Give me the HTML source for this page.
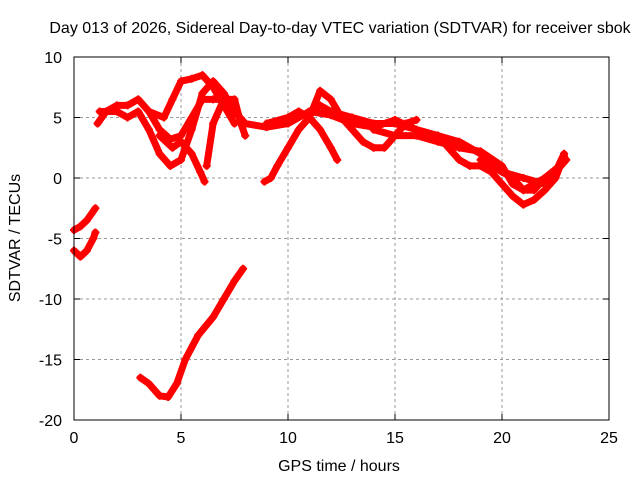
<!DOCTYPE html>
<html><head><meta charset="utf-8"><style>
body{margin:0;background:#fff}
svg text{font-family:"Liberation Sans",sans-serif;font-size:16px;fill:#000}
</style></head><body>
<svg id="chart" width="640" height="480">
<text x="340" y="33" text-anchor="middle">Day 013 of 2026, Sidereal Day-to-day VTEC variation (SDTVAR) for receiver sbok</text>
<text x="339" y="471" text-anchor="middle">GPS time / hours</text>
<text transform="translate(20,238) rotate(-90)" text-anchor="middle">SDTVAR / TECUs</text>
<g id="grid"></g><g id="ticks"></g><g id="series"></g>
<rect x="74" y="57" width="535" height="363" fill="none" stroke="#000" stroke-width="1"/>
</svg>
<script>
const xTicks=[0,5,10,15,20,25];
const yTicks=[10,5,0,-5,-10,-15,-20];
const track1=[[0,-4.3],[0.3,-4],[0.6,-3.5],[1,-2.5]];
const track2=[[0,-6],[0.3,-6.5],[0.6,-6],[0.9,-5],[1,-4.5]];
const track3=[[3.1,-16.5],[3.5,-17],[4,-18],[4.4,-18.1],[4.8,-17],[5.2,-15],[5.8,-13],[6.5,-11.5],[7,-10],[7.5,-8.5],[7.9,-7.5]];
const track4=[[1.1,4.5],[1.5,5.5],[2,6],[2.5,6],[3,6.5],[3.5,5.5],[4,4],[4.5,3.2],[5,3.5],[5.5,5],[6,6.5],[6.5,6.5],[7,6.5],[7.5,5.5],[8,4.5],[9,4.2],[10,4.5],[11,5.5],[11.5,6],[12,5.5],[13,5],[14,4.5],[15,4.5],[16,4],[17,3.5],[18,3],[19,2],[20,0.5],[21,0],[22,-0.5],[23,1.5]];
const track5=[[1.2,5.5],[2,5.5],[2.5,5],[3,5.5],[3.5,4],[4,2],[4.5,1],[5,1.5],[5.5,4],[6,7],[6.5,8],[7,7],[7.5,5.5],[8,4.5]];
const track6=[[3.5,5.5],[4.2,5],[4.6,6.5],[5,8],[5.5,8.2],[6,8.5],[6.5,7.5],[7,6],[7.5,4.5]];
const track7=[[4,3.5],[4.6,2.5],[5,3],[5.5,2],[5.9,0.5],[6.1,-0.3]];
const track8=[[6.2,1],[6.5,4.5],[7,6.5],[7.5,6.5],[7.8,4.5],[8,3.5]];
const track9=[[8.9,-0.3],[9.2,0],[9.5,1],[10,2.5],[10.5,4],[11,5],[11.5,7.2],[12,6.5],[12.5,5],[13,4],[13.5,3],[14,2.5],[14.5,2.5],[15,3.5],[15.5,4.5],[16,4.8]];
const track10=[[9,4.5],[10,5],[10.5,5.5],[11,5],[11.5,4],[12,2.5],[12.3,1.5]];
const track11=[[11,5.5],[12,5.2],[13,4.5],[14,4.2],[15,4.8],[16,4],[17,3.5],[17.5,2.5],[18,1.5],[18.5,1],[19,1],[19.5,0.5],[20,-0.5],[20.5,-1.5],[21,-2.2],[21.5,-1.8],[22,-1],[22.5,0],[22.9,1.8]];
const track12=[[14,4],[15,3.5],[16,3.5],[17,3],[18,2.5],[19,2.2],[20,1],[20.5,-0.5],[21,-1],[21.5,-1],[22,0],[22.5,0.5],[22.9,2]];
const track13=[[19,1.5],[20,0.5],[20.5,0],[21,-1],[21.5,-0.5],[22,0],[22.7,1]];
const tracks=[track1,track2,track3,track4,track5,track6,track7,track8,track9,track10,track11,track12,track13];
const NS='http://www.w3.org/2000/svg';
const X0=74,X1=609,Y0=420,Y1=57;
function xs(v){return X0+(v-0)/(25-0)*(X1-X0);}
function ys(v){return Y0-(v+20)/30*(Y0-Y1);}
function mk(t,a){const e=document.createElementNS(NS,t);for(const k in a)e.setAttribute(k,a[k]);return e;}
const grid=document.getElementById('grid'),ticks=document.getElementById('ticks'),ser=document.getElementById('series');
xTicks.forEach(v=>{const x=xs(v);
 if(v>0&&v<25){const l=mk('line',{x1:x,x2:x,y1:Y1,y2:Y0,stroke:'#999','stroke-dasharray':'3,3'});
 
 grid.appendChild(l);}
 const t=mk('line',{x1:x,x2:x,y1:Y0,y2:Y0-6,stroke:'#000'});ticks.appendChild(t);
 const t2=mk('line',{x1:x,x2:x,y1:Y1,y2:Y1+6,stroke:'#000'});ticks.appendChild(t2);
 const tx=mk('text',{x:x,y:Y0+23,'text-anchor':'middle'});tx.textContent=v;
 
 ticks.appendChild(tx);});
yTicks.forEach(v=>{const y=ys(v);
 if(v>-20&&v<10){const l=mk('line',{x1:X0,x2:X1,y1:y,y2:y,stroke:'#999','stroke-dasharray':'3,3'});
 
 grid.appendChild(l);}
 ticks.appendChild(mk('line',{x1:X0,x2:X0+6,y1:y,y2:y,stroke:'#000'}));
 ticks.appendChild(mk('line',{x1:X1,x2:X1-6,y1:y,y2:y,stroke:'#000'}));
 const tx=mk('text',{x:X0-12,y:y+6,'text-anchor':'end'});tx.textContent=v;
 
 ticks.appendChild(tx);});
tracks.forEach(tr=>{
 const pl=mk('polyline',{points:tr.map(p=>xs(p[0])+','+ys(p[1])).join(' '),fill:'none',stroke:'#f00','stroke-width':7,'stroke-linejoin':'round','stroke-linecap':'round'});
 
 ser.appendChild(pl);
 tr.forEach(p=>{const x=xs(p[0]),y=ys(p[1]);
  const m=mk('path',{d:`M${x-4},${y}H${x+4}M${x},${y-4}V${y+4}`,stroke:'#f00','stroke-width':2});
  
  ser.appendChild(m);});
});
</script>
</body></html>
